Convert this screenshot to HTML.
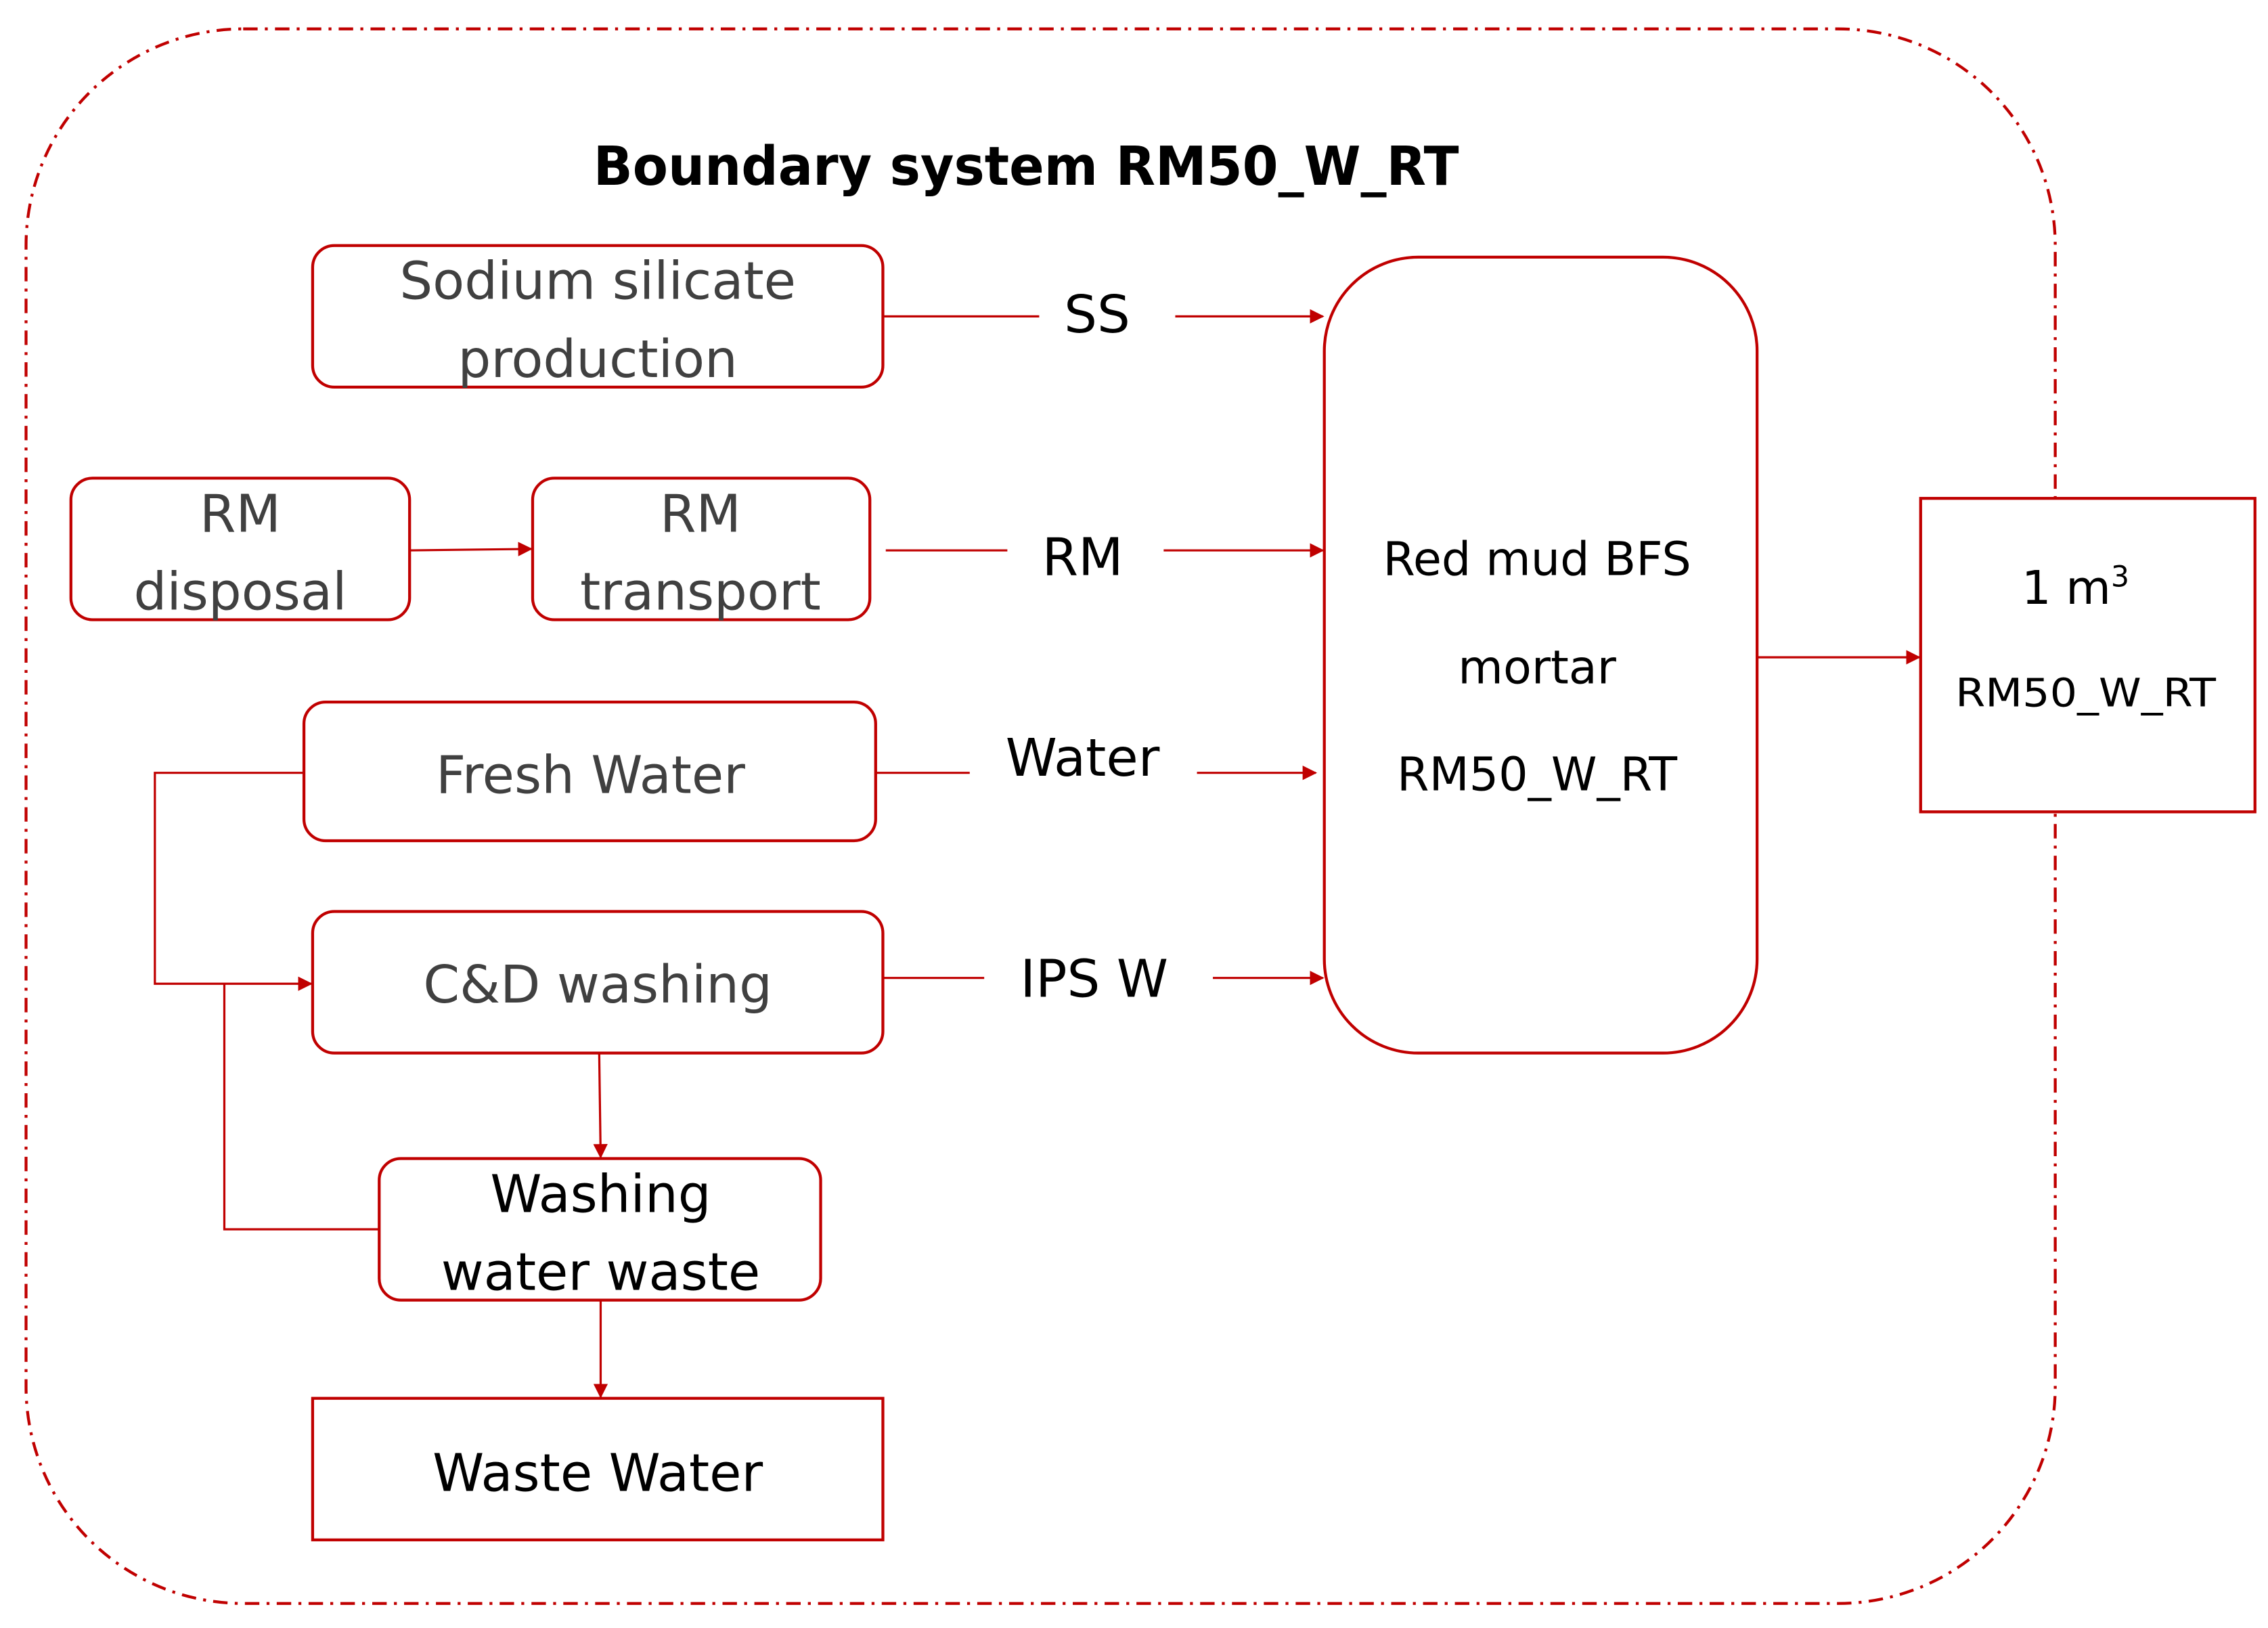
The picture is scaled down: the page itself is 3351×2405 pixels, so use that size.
<!DOCTYPE html>
<html><head><meta charset="utf-8"><style>
html,body{margin:0;padding:0;background:#fff;}
svg{display:block;}
text{font-family:"DejaVu Sans","Liberation Sans",sans-serif;}
</style></head><body>
<svg width="3351" height="2405" viewBox="0 0 1567 1127" preserveAspectRatio="none" xmlns="http://www.w3.org/2000/svg">
<defs>
<marker id="a" markerWidth="10" markerHeight="10" refX="9" refY="5" orient="auto" markerUnits="userSpaceOnUse">
<path d="M0,0 L10,5 L0,10 z" fill="#c00000"/>
</marker>
</defs>
<rect x="18" y="20" width="1402" height="1090" rx="150" ry="150" fill="none" stroke="#c00000" stroke-width="2" stroke-dasharray="10,5,2,5"/>
<text x="410" y="128" font-size="37" font-weight="bold" fill="#000" textLength="598" lengthAdjust="spacingAndGlyphs">Boundary system RM50_W_RT</text>

<g fill="#fff" stroke="#c00000" stroke-width="2">
<rect x="216" y="170" width="394" height="98" rx="15"/>
<rect x="49" y="331" width="234" height="98" rx="15"/>
<rect x="368" y="331" width="233" height="98" rx="15"/>
<rect x="210" y="486" width="395" height="96" rx="15"/>
<rect x="216" y="631" width="394" height="98" rx="15"/>
<rect x="262" y="802" width="305" height="98" rx="15"/>
<rect x="216" y="968" width="394" height="98"/>
<rect x="915" y="178" width="299" height="551" rx="65"/>
<rect x="1327" y="345" width="231" height="217"/>
</g>

<g stroke="#c00000" stroke-width="1.5" fill="none">
<line x1="610" y1="219" x2="718" y2="219"/>
<line x1="812" y1="219" x2="914" y2="219" marker-end="url(#a)"/>
<line x1="283" y1="381" x2="367" y2="380" marker-end="url(#a)"/>
<line x1="612" y1="381" x2="696" y2="381"/>
<line x1="804" y1="381" x2="914" y2="381" marker-end="url(#a)"/>
<line x1="605" y1="535" x2="670" y2="535"/>
<line x1="827" y1="535" x2="909" y2="535" marker-end="url(#a)"/>
<line x1="610" y1="677" x2="680" y2="677"/>
<line x1="838" y1="677" x2="914" y2="677" marker-end="url(#a)"/>
<line x1="1214" y1="455" x2="1326" y2="455" marker-end="url(#a)"/>
<polyline points="210,535 107,535 107,681 215,681" marker-end="url(#a)"/>
<polyline points="262,851 155,851 155,681"/>
<line x1="414" y1="729" x2="415" y2="801" marker-end="url(#a)"/>
<line x1="415" y1="900" x2="415" y2="967" marker-end="url(#a)"/>
</g>

<g fill="#404040" font-size="36" text-anchor="middle">
<text x="413" y="207">Sodium silicate</text>
<text x="413" y="261">production</text>
<text x="166" y="368">RM</text>
<text x="166" y="422">disposal</text>
<text x="484" y="368">RM</text>
<text x="484" y="422">transport</text>
<text x="408" y="549">Fresh Water</text>
<text x="413" y="694">C&amp;D washing</text>
</g>
<g fill="#000" font-size="36" text-anchor="middle">
<text x="415" y="839">Washing</text>
<text x="415" y="893">water waste</text>
<text x="413" y="1032">Waste Water</text>
<text x="758" y="230">SS</text>
<text x="748" y="398">RM</text>
<text x="748" y="537">Water</text>
<text x="756" y="690">IPS W</text>
</g>
<g fill="#000" font-size="32" text-anchor="middle">
<text x="1062" y="398">Red mud BFS</text>
<text x="1062" y="473">mortar</text>
<text x="1062" y="547">RM50_W_RT</text>
<text x="1434" y="418">1 m<tspan font-size="20" dy="-12">3</tspan></text>
<text x="1351" y="489" font-size="27" text-anchor="start" textLength="180" lengthAdjust="spacingAndGlyphs">RM50_W_RT</text>
</g>
</svg>
</body></html>
